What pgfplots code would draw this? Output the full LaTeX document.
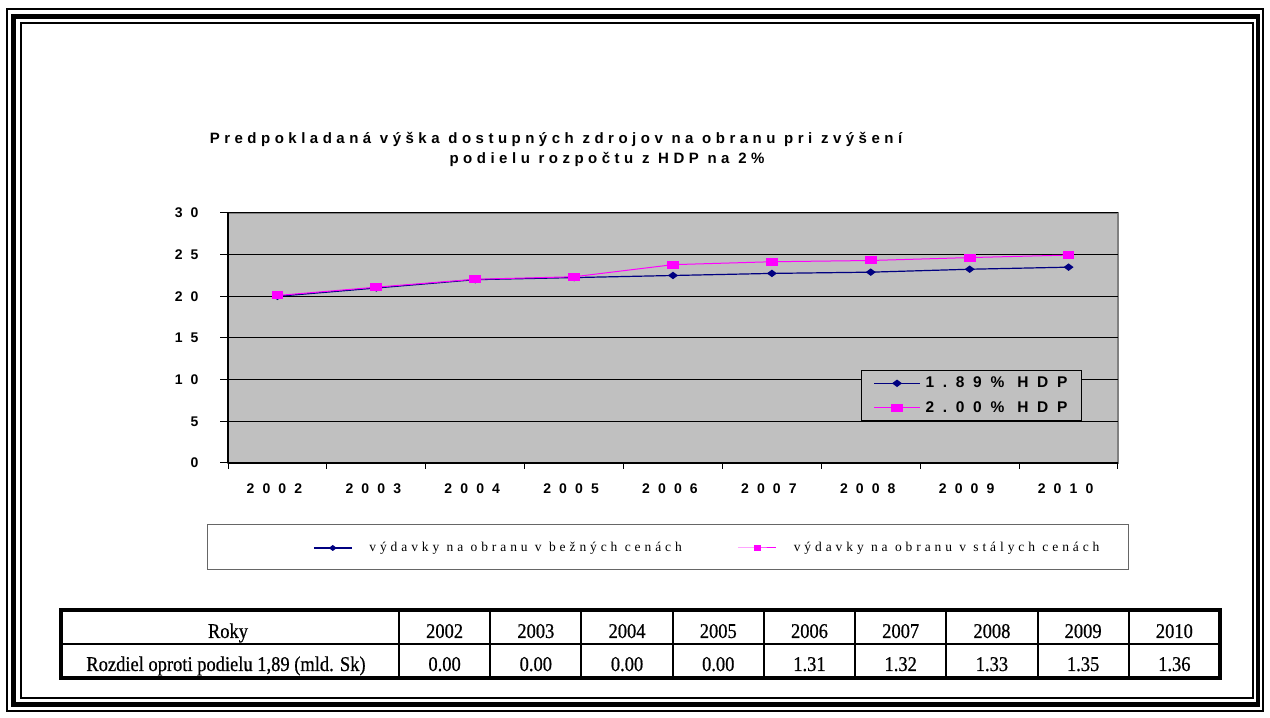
\documentclass[border=0pt]{standalone}
\usepackage{pgfplots}
\pgfplotsset{compat=1.18}
\usepackage{fontspec}
\setmainfont{Liberation Serif}
\newfontfamily\titlefont[LetterSpace=30]{Liberation Sans}
\newfontfamily\tickfont[LetterSpace=58]{Liberation Sans}
\newfontfamily\legfontA[LetterSpace=56]{Liberation Sans}
\newfontfamily\legfontB[LetterSpace=29]{Liberation Serif}
\newfontfamily\tabfont[FakeStretch=0.88, FakeBold=0.6]{Liberation Serif}
\definecolor{bggray}{HTML}{C0C0C0}
\definecolor{navyc}{HTML}{000080}
\definecolor{magc}{HTML}{FF00FF}
\begin{document}
\begin{tikzpicture}[x=1pt,y=1pt]
\useasboundingbox (0,0) rectangle (1270,718);
\fill[white] (0,0) rectangle (1270,718);
% frame
\draw[line width=1.8pt] (7,7) rectangle (1263,709);
\draw[line width=4.5pt] (13.5,13.5) rectangle (1258,701.5);
\draw[line width=2pt] (20.5,20) rectangle (1253,695);
% title
\node[anchor=base, inner sep=0pt, font={\titlefont\bfseries\fontsize{15}{17}\selectfont}] at (556,574) {Predpokladaná výška dostupných zdrojov na obranu pri zvýšení};
\node[anchor=base, inner sep=0pt, font={\titlefont\bfseries\fontsize{15}{17}\selectfont}] at (607,554) {podielu rozpočtu z HDP na 2\%};

\begin{axis}[
  at={(228pt,255pt)}, anchor=south west,
  scale only axis, width=890pt, height=250pt,
  xmin=-0.5, xmax=8.5, ymin=0, ymax=30,
  axis lines*=left,
  axis line style={-, black, line width=1.5pt},
  axis background/.style={fill=bggray, draw=gray, line width=1.2pt},
  xtick={0,1,2,3,4,5,6,7,8},
  xticklabels={2002,2003,2004,2005,2006,2007,2008,2009,2010},
  minor xtick={-0.5,0.5,1.5,2.5,3.5,4.5,5.5,6.5,7.5,8.5},
  major x tick style={draw=none},
  xticklabel style={yshift=-9pt, xshift=-3pt},
  ytick={0,5,10,15,20,25,30},
  yticklabels={0,5,10,15,20,25,30},
  yticklabel style={xshift=-18pt},
  tick align=outside,
  major tick length=8pt,
  minor tick length=6pt,
  every tick/.style={black, line width=1pt},
  ymajorgrids,
  major grid style={black, line width=1pt},
  tick label style={font={\tickfont\bfseries\fontsize{14}{16}\selectfont}},
  legend style={at={(0.711,0.372)}, anchor=north west, draw=black, line width=1.3pt, fill=bggray,
    font={\legfontA\bfseries\fontsize{15.5}{17}\selectfont}, inner xsep=12pt, inner ysep=4.5pt, row sep=8pt,
    /tikz/every odd column/.append style={column sep=3pt}},
  legend cell align=left,
  legend image code/.code={\draw[mark repeat=2,mark phase=2] plot coordinates {(0pt,0pt) (23pt,0pt) (46pt,0pt)};},
]
\addplot[navyc, line width=1.2pt, mark=diamond*, mark size=4pt, mark options={rotate=90, solid}]
  coordinates {(0,20.0) (1,21.0) (2,22.0) (3,22.25) (4,22.5) (5,22.75) (6,22.9) (7,23.25) (8,23.5)};
\addlegendentry{1.89\% HDP}
\addplot[magc, line width=1pt, mark=square*, mark size=3.5pt, mark options={xscale=1.55, solid}]
  coordinates {(0,20.1) (1,21.1) (2,22.05) (3,22.35) (4,23.8) (5,24.15) (6,24.3) (7,24.65) (8,24.95)};
\addlegendentry{2.00\% HDP}
\end{axis}

% bottom legend
\draw[black!60, line width=1pt] (207,148) rectangle (1128,193);
\begin{axis}[
  at={(313pt,170pt)}, anchor=south west,
  scale only axis, width=10pt, height=10pt,
  xmin=0, xmax=1, ymin=0, ymax=1, hide axis,
  legend columns=2,
  legend style={at={(0,0)}, anchor=west, draw=none, fill=none, inner sep=0pt,
    font={\legfontB\fontsize{13.5}{15}\selectfont},
    /tikz/every even column/.append style={column sep=54pt},
    /tikz/every odd column/.append style={column sep=15pt}},
  legend image code/.code={\draw[mark repeat=2,mark phase=2] plot coordinates {(0pt,0pt) (19pt,0pt) (38pt,0pt)};},
]
\addlegendimage{navyc, line width=1.2pt, mark=diamond*, mark size=3pt, mark options={rotate=90, solid}}
\addlegendentry{výdavky na obranu v bežných cenách}
\addlegendimage{magc, line width=1pt, mark=square*, mark size=2.5pt, mark options={xscale=1.3, solid}}
\addlegendentry{výdavky na obranu v stálych cenách}
\end{axis}

% table
\draw[line width=2pt] (61,74) -- (1220,74);
\foreach \i in {0,...,8} {
  \draw[line width=2pt] ({399+91.22*\i},40) -- ({399+91.22*\i},108);
}
\draw[line width=4pt] (61,40) rectangle (1220,108);
\node[anchor=base, inner sep=0pt, font={\tabfont\fontsize{21}{22}\selectfont}] at (228,80) {Roky};
\node[anchor=base, inner sep=0pt, font={\tabfont\fontsize{21}{22}\selectfont}] at (226,47) {Rozdiel oproti podielu 1,89 (mld. Sk)};
\foreach \y [count=\i from 0] in {2002,2003,2004,2005,2006,2007,2008,2009,2010} {
  \node[anchor=base, inner sep=0pt, font={\tabfont\fontsize{21}{22}\selectfont}] at ({399+91.22*(\i+0.5)},80) {\y};
}
\foreach \v [count=\i from 0] in {0.00,0.00,0.00,0.00,1.31,1.32,1.33,1.35,1.36} {
  \node[anchor=base, inner sep=0pt, font={\tabfont\fontsize{21}{22}\selectfont}] at ({399+91.22*(\i+0.5)},47) {\v};
}
\end{tikzpicture}
\end{document}
